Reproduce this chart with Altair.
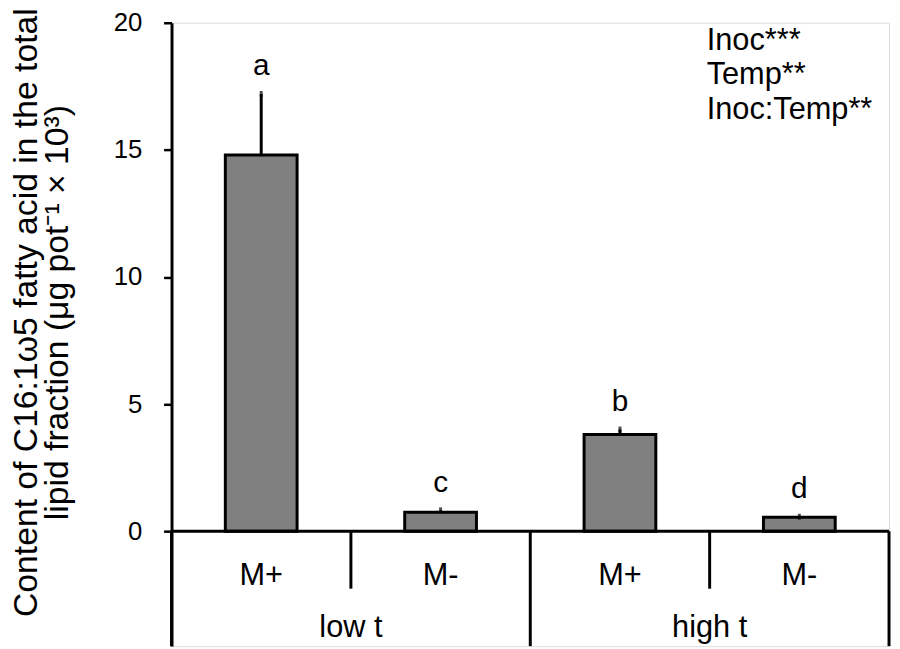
import altair as alt
import pandas as pd

temps = ["low t", "low t", "high t", "high t"]
inoc = ["M+", "M-", "M+", "M-"]
means = [14.8, 0.75, 3.8, 0.55]
ses = [2.4, 0.07, 0.2, 0.02]
letters = ["a", "c", "b", "d"]
temp_groups = ["low t", "high t"]
stats_text = ["Inoc***", "Temp**", "Inoc:Temp**"]
y_ticks = [0, 5, 10, 15, 20]
y_title = ["Content of C16:1\u03c95 fatty acid in the total",
           "lipid fraction (\u03bcg pot\u207b\u00b9 \u00d7 10\u00b3)"]

FONT = "Liberation Sans"
YMIN, YMAX = -4.52, 20
XMAX = 4
W, H = 724, 629

bars = pd.DataFrame({
    "idx": list(range(len(inoc))),
    "temp": temps, "inoc": inoc, "mean": means, "se": ses, "letter": letters,
})
bars["c"] = bars["idx"] + 0.5
bars["lo"] = bars["c"] - 0.2
bars["hi"] = bars["c"] + 0.2
bars["top"] = bars["mean"] + bars["se"]
bars["sub_y"] = -2.1

groups = pd.DataFrame({"g": temp_groups, "c": [1.0, 3.0], "y": [-4.17, -4.17]})
short_sep = pd.DataFrame({"x": [1.0, 3.0], "y": [0.0, 0.0], "y2": [-2.26, -2.26]})
long_sep = pd.DataFrame({"x": [0.0, 2.0, 4.0], "y": [0.0, 0.0, 0.0], "y2": [YMIN, YMIN, YMIN]})
base = pd.DataFrame({"x": [0.0], "x2": [4.0], "y": [0.0]})

xs = alt.Scale(domain=[0, XMAX], nice=False, zero=False)
ys = alt.Scale(domain=[YMIN, YMAX], nice=False, zero=False)

yaxis = alt.Axis(values=y_ticks, grid=False, domainColor="black", domainWidth=3,
                 tickColor="black", tickWidth=2.5, tickSize=8,
                 labelFont=FONT, labelFontSize=26, labelColor="black", labelPadding=22,
                 title=y_title, titleFont=FONT, titleFontSize=34, titleFontWeight="normal",
                 titleColor="black", titleAngle=270, titleAlign="center",
                 titleBaseline="alphabetic", titleX=-136, titleY=292, titleLineHeight=31)

bar_layer = alt.Chart(bars).mark_bar(color="#808080", stroke="black", strokeWidth=3).encode(
    x=alt.X("lo:Q", scale=xs, axis=None), x2="hi:Q",
    y=alt.Y("mean:Q", scale=ys, axis=yaxis), y2=alt.datum(0),
)
err = alt.Chart(bars).mark_rule(color="black", strokeWidth=3).encode(
    x=alt.X("c:Q", scale=xs), y=alt.Y("mean:Q", scale=ys), y2="top:Q")
cap = alt.Chart(bars).mark_tick(color="black", thickness=3, size=6).encode(
    x=alt.X("c:Q", scale=xs), y=alt.Y("top:Q", scale=ys))
let = alt.Chart(bars).mark_text(font=FONT, fontSize=30, color="black", baseline="alphabetic", dy=-19).encode(
    x=alt.X("c:Q", scale=xs), y=alt.Y("top:Q", scale=ys), text="letter:N")
base_rule = alt.Chart(base).mark_rule(color="black", strokeWidth=3).encode(
    x=alt.X("x:Q", scale=xs), x2="x2:Q", y=alt.Y("y:Q", scale=ys))
short_rule = alt.Chart(short_sep).mark_rule(color="black", strokeWidth=3).encode(
    x=alt.X("x:Q", scale=xs), y=alt.Y("y:Q", scale=ys), y2="y2:Q")
long_rule = alt.Chart(long_sep).mark_rule(color="black", strokeWidth=3).encode(
    x=alt.X("x:Q", scale=xs), y=alt.Y("y:Q", scale=ys), y2="y2:Q")
sub_lab = alt.Chart(bars).mark_text(font=FONT, fontSize=31, color="black", baseline="alphabetic").encode(
    x=alt.X("c:Q", scale=xs), y=alt.Y("sub_y:Q", scale=ys), text="inoc:N")
grp_lab = alt.Chart(groups).mark_text(font=FONT, fontSize=31, color="black", baseline="alphabetic").encode(
    x=alt.X("c:Q", scale=xs), y=alt.Y("y:Q", scale=ys), text="g:N")
stats = alt.Chart(pd.DataFrame({"t": ["\n".join(stats_text)]})).mark_text(
    font=FONT, fontSize=31, color="black", align="left", baseline="alphabetic",
    lineBreak="\n", lineHeight=35).encode(
    x=alt.value(540), y=alt.value(27), text="t:N")

chart = alt.layer(bar_layer, err, cap, let, base_rule, short_rule, long_rule,
                  sub_lab, grp_lab, stats).properties(
    width=W, height=H, autosize="none",
    padding={"left": 165, "top": 12, "right": 3, "bottom": 0},
).configure_view(stroke=None).configure(background="white")

chart.save("out.html", embed_options={"renderer": "svg", "actions": False})
